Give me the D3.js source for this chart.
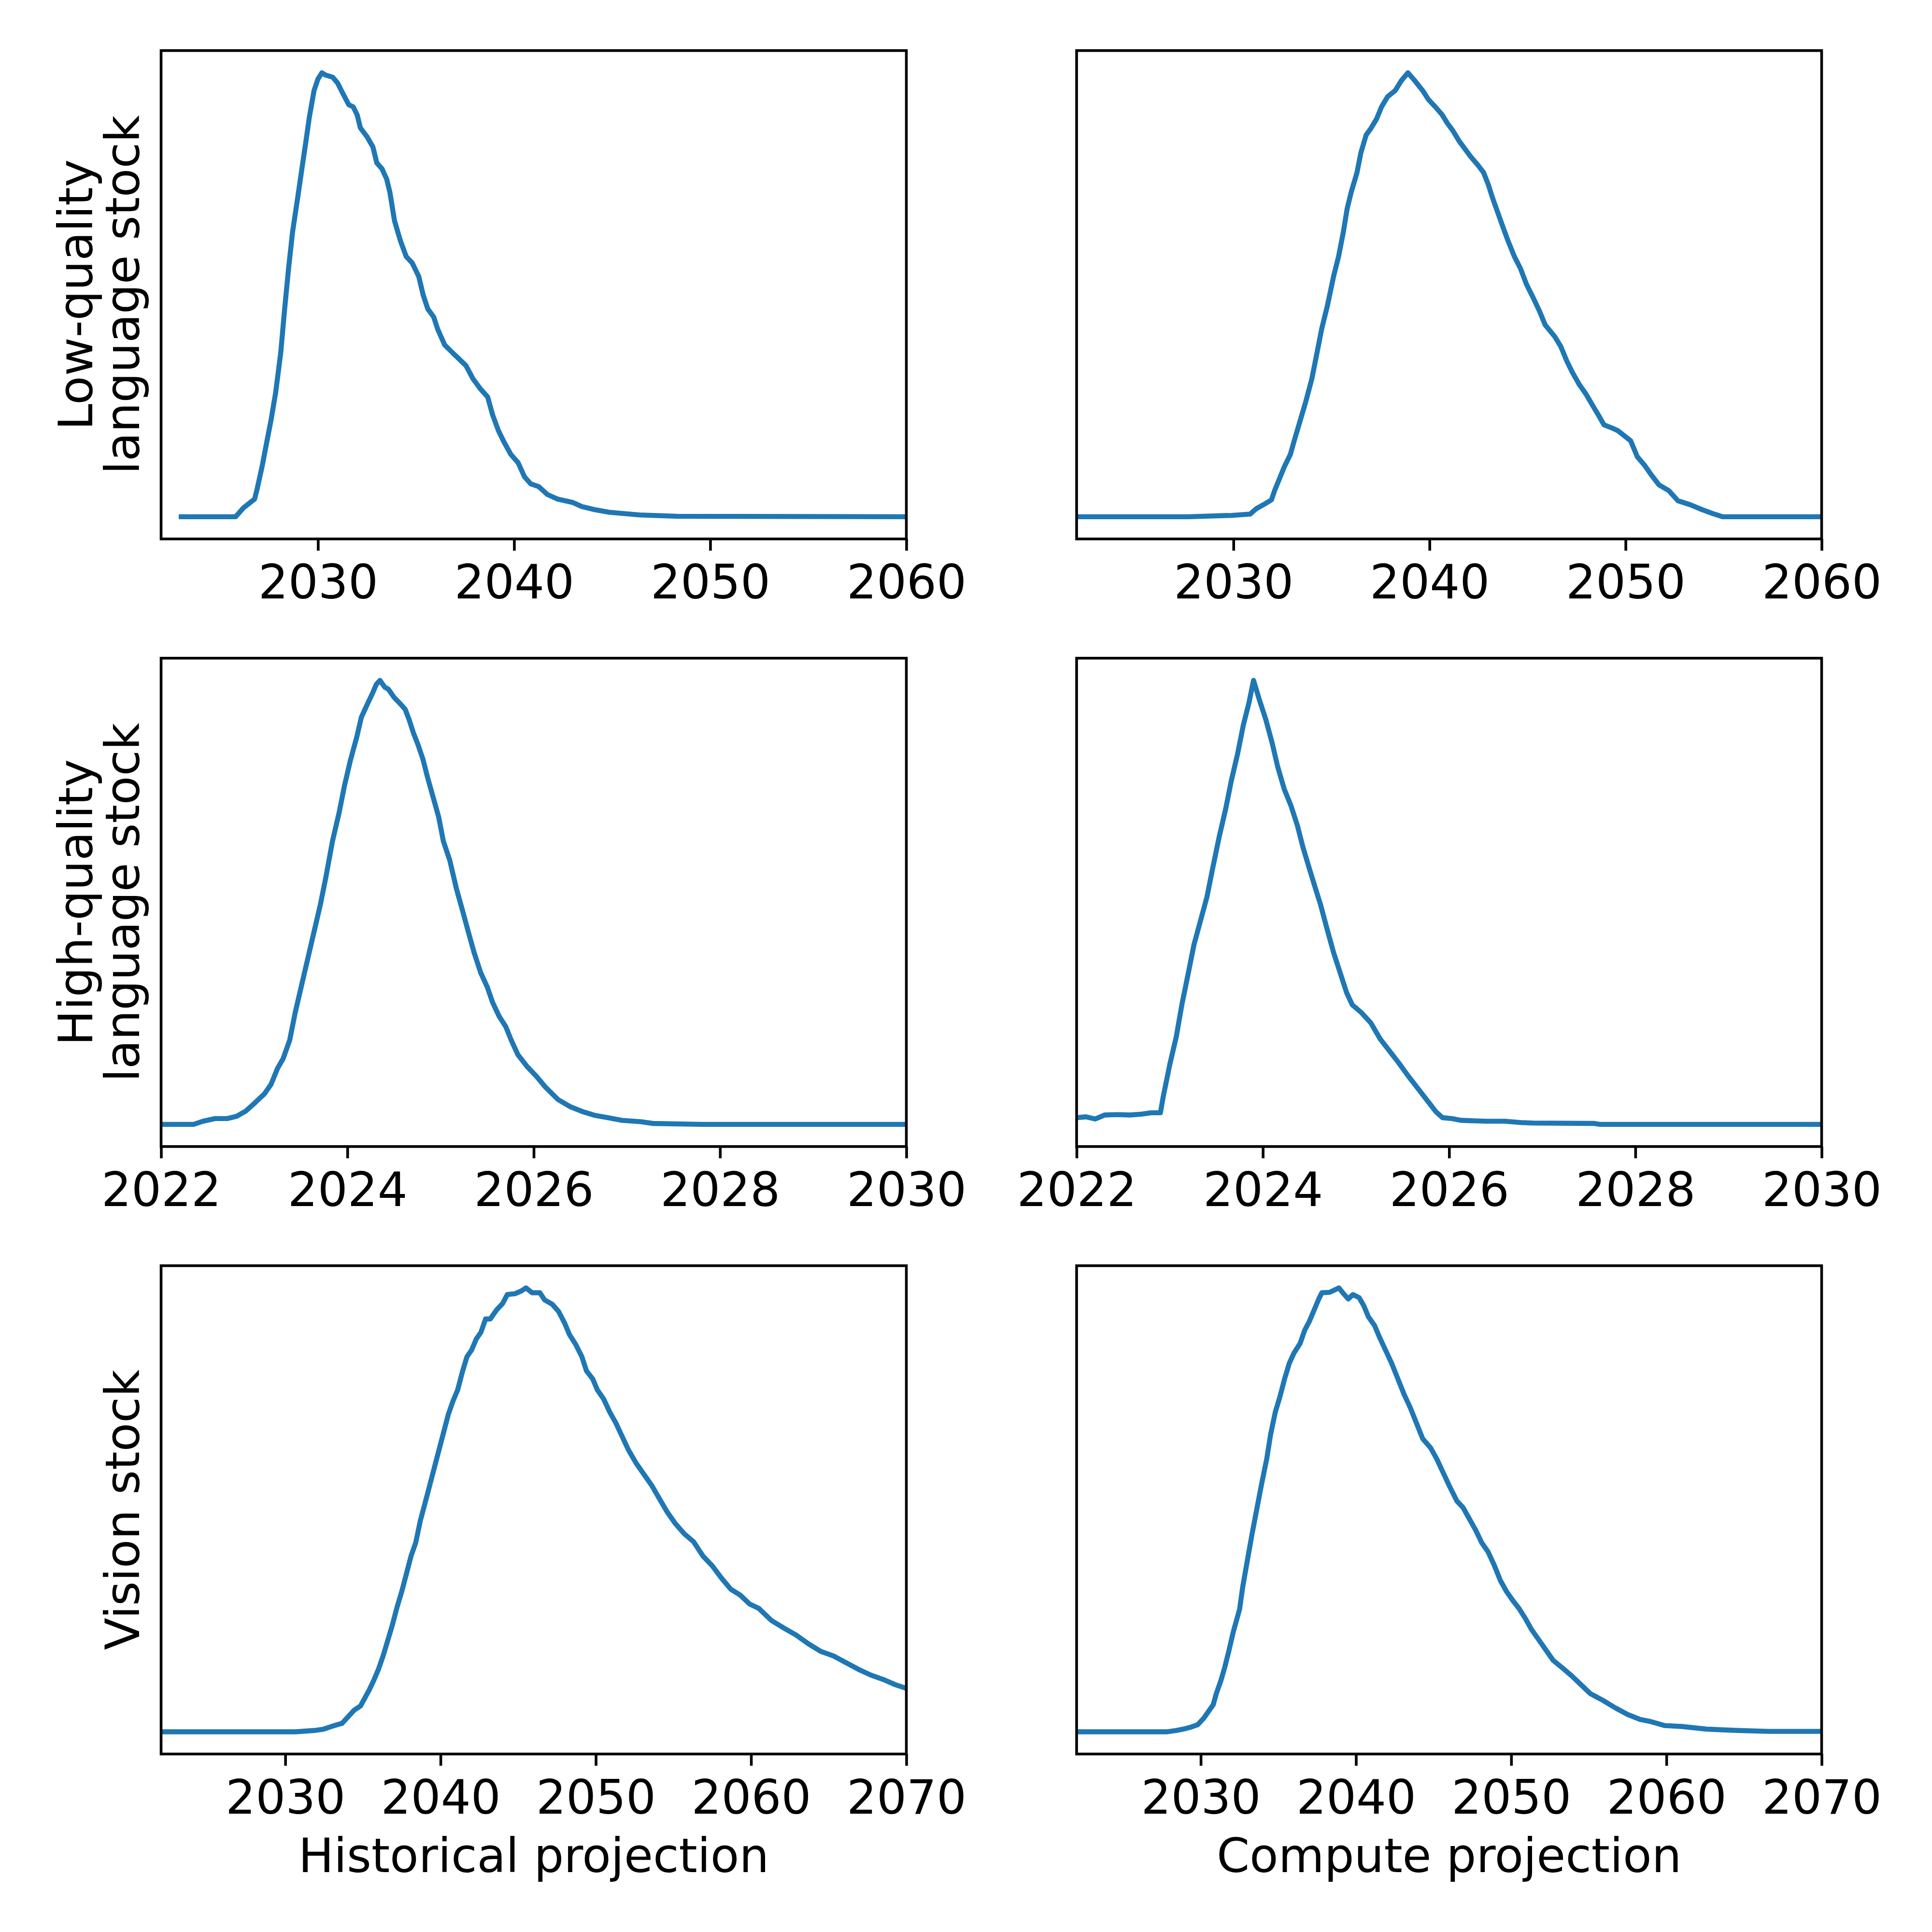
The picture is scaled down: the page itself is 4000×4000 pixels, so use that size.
<!DOCTYPE html>
<html lang="en">
<head>
<meta charset="UTF-8">
<title>Stock depletion projections</title>
<script src="https://d3js.org/d3.v7.min.js"></script>
<style>
  body { margin: 0; background: #fff; }
  svg text { font-family: 'DejaVu Sans', sans-serif; fill: #000; }
</style>
</head>
<body>
<svg width="4000" height="4000"></svg>
<script>
// ---- data (year, relative density) ----
const lowHist = [
  [2022.9,0],[2025.8,0],[2026.2,0.02],[2026.77,0.04],[2026.9,0.063],[2027.15,0.113],[2027.4,0.171],
  [2027.6,0.216],[2027.84,0.279],[2028.1,0.369],[2028.3,0.468],[2028.5,0.559],[2028.7,0.64],
  [2028.97,0.72],[2029.2,0.79],[2029.4,0.85],[2029.56,0.9],[2029.8,0.96],[2030.0,0.986],[2030.2,1.0],
  [2030.38,0.995],[2030.75,0.99],[2031.0,0.977],[2031.25,0.955],[2031.57,0.928],[2031.8,0.923],
  [2032.0,0.905],[2032.16,0.876],[2032.5,0.856],[2032.8,0.833],[2033.0,0.797],[2033.26,0.784],
  [2033.5,0.761],[2033.67,0.73],[2033.9,0.667],[2034.2,0.622],[2034.5,0.586],[2034.8,0.572],
  [2035.14,0.541],[2035.36,0.5],[2035.6,0.468],[2035.9,0.45],[2036.1,0.423],[2036.46,0.387],
  [2036.87,0.369],[2037.18,0.356],[2037.55,0.34],[2037.9,0.311],[2038.28,0.288],[2038.65,0.27],
  [2038.9,0.23],[2039.2,0.194],[2039.5,0.167],[2039.84,0.14],[2040.2,0.122],[2040.53,0.09],
  [2040.85,0.074],[2041.25,0.068],[2041.7,0.05],[2042.2,0.04],[2043.0,0.032],[2043.45,0.023],
  [2044.1,0.016],[2044.86,0.01],[2046.4,0.004],[2048.3,0.001],[2060,0]
];
const lowComp = [
  [2022,0],[2027.7,0],[2029.9,0.003],[2030.85,0.006],[2031.16,0.018],[2031.6,0.029],[2031.94,0.038],
  [2032.1,0.059],[2032.35,0.086],[2032.6,0.113],[2032.9,0.14],[2033.13,0.176],[2033.4,0.216],
  [2033.7,0.261],[2034.0,0.311],[2034.26,0.369],[2034.5,0.423],[2034.8,0.477],[2035.1,0.54],
  [2035.36,0.586],[2035.6,0.64],[2035.8,0.694],[2036.0,0.73],[2036.3,0.775],[2036.5,0.82],
  [2036.77,0.86],[2037.0,0.874],[2037.3,0.896],[2037.55,0.923],[2037.86,0.946],[2038.25,0.96],
  [2038.56,0.982],[2038.9,1.0],[2039.25,0.982],[2039.65,0.96],[2039.94,0.94],[2040.3,0.923],
  [2040.65,0.905],[2040.9,0.887],[2041.2,0.869],[2041.5,0.847],[2041.8,0.829],[2042.1,0.811],
  [2042.45,0.793],[2042.76,0.775],[2043.0,0.748],[2043.2,0.72],[2043.45,0.689],[2043.7,0.658],
  [2044.0,0.622],[2044.33,0.586],[2044.64,0.559],[2044.95,0.523],[2045.27,0.495],[2045.6,0.464],
  [2045.9,0.432],[2046.4,0.405],[2046.7,0.383],[2047.0,0.351],[2047.3,0.324],[2047.65,0.297],
  [2048.0,0.275],[2048.3,0.252],[2048.6,0.23],[2048.9,0.207],[2049.3,0.2],[2049.6,0.194],
  [2049.95,0.182],[2050.26,0.171],[2050.6,0.135],[2050.95,0.117],[2051.3,0.095],[2051.7,0.072],
  [2052.2,0.059],[2052.67,0.036],[2053.3,0.027],[2053.9,0.016],[2054.45,0.007],[2054.95,0],[2060,0]
];
const highHist = [
  [2022,0],[2022.35,0],[2022.45,0.007],[2022.58,0.013],[2022.71,0.013],[2022.81,0.018],[2022.91,0.03],
  [2023.01,0.049],[2023.11,0.069],[2023.18,0.09],[2023.25,0.126],[2023.31,0.148],[2023.38,0.189],
  [2023.44,0.252],[2023.51,0.315],[2023.58,0.378],[2023.64,0.432],[2023.71,0.495],[2023.77,0.558],
  [2023.84,0.638],[2023.91,0.701],[2023.97,0.764],[2024.03,0.818],[2024.1,0.872],[2024.15,0.917],
  [2024.22,0.949],[2024.27,0.971],[2024.31,0.991],[2024.35,1.0],[2024.4,0.985],[2024.44,0.98],
  [2024.5,0.962],[2024.56,0.949],[2024.62,0.935],[2024.66,0.913],[2024.71,0.881],[2024.76,0.854],
  [2024.81,0.823],[2024.86,0.782],[2024.92,0.737],[2024.98,0.692],[2025.03,0.638],[2025.1,0.594],
  [2025.17,0.531],[2025.23,0.486],[2025.3,0.432],[2025.36,0.387],[2025.43,0.342],[2025.5,0.31],
  [2025.56,0.274],[2025.63,0.243],[2025.7,0.22],[2025.76,0.189],[2025.83,0.157],[2025.93,0.13],
  [2026.03,0.108],[2026.13,0.083],[2026.26,0.056],[2026.39,0.04],[2026.52,0.029],[2026.66,0.02],
  [2026.82,0.014],[2026.95,0.009],[2027.15,0.006],[2027.28,0.002],[2027.8,0],[2030,0]
];
const highComp = [
  [2022.0,0.016],[2022.1,0.018],[2022.2,0.013],[2022.3,0.022],[2022.44,0.023],[2022.57,0.022],
  [2022.7,0.024],[2022.8,0.027],[2022.9,0.027],[2022.93,0.063],[2023.0,0.135],[2023.07,0.198],
  [2023.13,0.27],[2023.2,0.342],[2023.26,0.405],[2023.33,0.459],[2023.4,0.513],[2023.46,0.576],
  [2023.53,0.647],[2023.6,0.71],[2023.66,0.773],[2023.73,0.836],[2023.79,0.899],[2023.85,0.949],
  [2023.9,1.0],[2023.96,0.958],[2024.03,0.913],[2024.1,0.859],[2024.16,0.805],[2024.23,0.755],
  [2024.3,0.719],[2024.37,0.674],[2024.43,0.625],[2024.5,0.576],[2024.56,0.535],[2024.62,0.495],
  [2024.69,0.44],[2024.76,0.387],[2024.83,0.342],[2024.9,0.297],[2024.96,0.27],[2025.06,0.252],
  [2025.16,0.229],[2025.26,0.193],[2025.36,0.166],[2025.46,0.139],[2025.56,0.11],[2025.66,0.083],
  [2025.76,0.056],[2025.86,0.029],[2025.93,0.016],[2026.03,0.014],[2026.13,0.01],[2026.4,0.008],
  [2026.6,0.008],[2026.77,0.005],[2026.9,0.004],[2027.56,0.003],[2027.62,0.001],[2030,0.001]
];
const visionHist = [
  [2022,0],[2030.67,0],[2031.86,0.003],[2032.46,0.006],[2033.06,0.013],[2033.65,0.019],[2034.05,0.034],
  [2034.44,0.049],[2034.84,0.058],[2035.12,0.076],[2035.4,0.094],[2035.7,0.116],[2036.0,0.141],
  [2036.3,0.171],[2036.6,0.206],[2036.9,0.241],[2037.2,0.281],[2037.5,0.316],[2037.8,0.356],
  [2038.1,0.396],[2038.4,0.426],[2038.7,0.476],[2039.0,0.515],[2039.3,0.555],[2039.6,0.595],
  [2039.9,0.635],[2040.2,0.675],[2040.5,0.715],[2040.8,0.745],[2041.1,0.77],[2041.4,0.81],
  [2041.7,0.845],[2042.0,0.86],[2042.3,0.885],[2042.6,0.9],[2042.9,0.93],[2043.2,0.93],
  [2043.6,0.95],[2044.0,0.965],[2044.3,0.985],[2044.8,0.987],[2045.2,0.993],[2045.5,1.0],
  [2045.9,0.989],[2046.4,0.989],[2046.7,0.973],[2047.2,0.963],[2047.6,0.947],[2048.0,0.92],
  [2048.3,0.895],[2048.7,0.873],[2049.1,0.845],[2049.4,0.813],[2049.8,0.795],[2050.1,0.77],
  [2050.5,0.75],[2050.9,0.72],[2051.3,0.695],[2051.7,0.665],[2052.1,0.635],[2052.6,0.605],
  [2053.1,0.58],[2053.6,0.555],[2054.1,0.525],[2054.6,0.495],[2055.1,0.47],[2055.7,0.446],
  [2056.3,0.428],[2056.9,0.396],[2057.5,0.374],[2058.1,0.346],[2058.7,0.321],[2059.3,0.308],
  [2059.9,0.288],[2060.5,0.278],[2061.3,0.251],[2062.1,0.234],[2062.9,0.218],[2063.7,0.198],
  [2064.5,0.181],[2065.3,0.171],[2066.1,0.156],[2066.9,0.141],[2067.7,0.128],[2068.5,0.118],
  [2069.3,0.106],[2070,0.098]
];
const visionComp = [
  [2022,0],[2027.8,0],[2028.4,0.003],[2029.0,0.007],[2029.4,0.011],[2029.8,0.016],[2030.2,0.031],
  [2030.5,0.046],[2030.8,0.061],[2031.0,0.086],[2031.3,0.116],[2031.55,0.146],[2031.8,0.181],
  [2032.1,0.226],[2032.5,0.276],[2032.7,0.326],[2033.0,0.386],[2033.3,0.445],[2033.6,0.5],
  [2033.9,0.555],[2034.25,0.615],[2034.5,0.67],[2034.8,0.72],[2035.1,0.755],[2035.4,0.795],
  [2035.7,0.83],[2036.0,0.853],[2036.4,0.875],[2036.7,0.905],[2037.0,0.925],[2037.3,0.95],
  [2037.6,0.975],[2037.8,0.989],[2038.3,0.99],[2038.9,1.0],[2039.2,0.987],[2039.5,0.975],
  [2039.8,0.985],[2040.2,0.978],[2040.5,0.96],[2040.8,0.935],[2041.2,0.915],[2041.5,0.89],
  [2041.9,0.86],[2042.3,0.83],[2042.7,0.795],[2043.1,0.76],[2043.5,0.73],[2043.9,0.695],
  [2044.3,0.66],[2044.8,0.64],[2045.2,0.615],[2045.6,0.585],[2046.0,0.555],[2046.5,0.52],
  [2046.9,0.505],[2047.3,0.48],[2047.7,0.455],[2048.1,0.426],[2048.5,0.406],[2048.9,0.376],
  [2049.3,0.341],[2049.7,0.316],[2050.1,0.296],[2050.5,0.278],[2050.9,0.256],[2051.3,0.231],
  [2051.7,0.211],[2052.2,0.186],[2052.7,0.161],[2053.3,0.144],[2053.9,0.126],[2054.5,0.106],
  [2055.1,0.086],[2055.9,0.071],[2056.7,0.054],[2057.5,0.039],[2058.3,0.028],[2059.0,0.023],
  [2059.9,0.014],[2061.0,0.012],[2062.6,0.006],[2064.6,0.003],[2066.6,0.001],[2070,0.001]
];

const rowLabels = [["Low-quality", "language stock"], ["High-quality", "language stock"], ["Vision stock"]];
const colLabels = ["Historical projection", "Compute projection"];
const rowDomains = [[2022, 2060], [2022, 2030], [2022, 2070]];
const rowTicks = [[2030, 2040, 2050, 2060], [2022, 2024, 2026, 2028, 2030], [2030, 2040, 2050, 2060, 2070]];
const series = [[lowHist, lowComp], [highHist, highComp], [visionHist, visionComp]];

// ---- layout (matplotlib 8x8 in @ 500 dpi) ----
const svg = d3.select("svg");
const colX = [[333.5, 1876.5], [2229, 3771.5]];
const rowY = [[104.7, 1115.8], [1362.7, 2373.8], [2620.5, 3631.5]];
const fontSize = 97.5;
const frameW = 5.6, tickLen = 24.3;
const lineColor = "#1f77b4";

rowY.forEach((ry, r) => {
  colX.forEach((cx, c) => {
    const data = series[r][c];
    const x = d3.scaleLinear().domain(rowDomains[r]).range(cx);
    const [lo, hi] = d3.extent(data, d => d[1]);
    const pad = (hi - lo) * 0.05;
    const y = d3.scaleLinear().domain([lo - pad, hi + pad]).range([ry[1], ry[0]]);

    const g = svg.append("g");
    const clipId = `clip-${r}-${c}`;
    g.append("clipPath").attr("id", clipId)
      .append("rect").attr("x", cx[0]).attr("y", ry[0])
      .attr("width", cx[1] - cx[0]).attr("height", ry[1] - ry[0]);

    g.append("path")
      .datum(data)
      .attr("clip-path", `url(#${clipId})`)
      .attr("fill", "none")
      .attr("stroke", lineColor)
      .attr("stroke-width", 10.4)
      .attr("stroke-linejoin", "round")
      .attr("d", d3.line().x(d => x(d[0])).y(d => y(d[1])));

    // x axis ticks and labels
    const axis = d3.axisBottom(x).tickValues(rowTicks[r]).tickSize(tickLen).tickPadding(24).tickFormat(d3.format("d"));
    const ax = g.append("g").attr("transform", `translate(0,${ry[1]})`).call(axis);
    ax.select(".domain").remove();
    ax.selectAll(".tick line").attr("stroke", "#000").attr("stroke-width", frameW);
    ax.selectAll(".tick text")
      .attr("font-size", fontSize)
      .attr("font-family", "'DejaVu Sans', sans-serif")
      .attr("dy", null)
      .attr("y", 123)
      .attr("fill", "#000");

    // frame
    g.append("rect")
      .attr("x", cx[0]).attr("y", ry[0])
      .attr("width", cx[1] - cx[0]).attr("height", ry[1] - ry[0])
      .attr("fill", "none").attr("stroke", "#000").attr("stroke-width", frameW);

    // y label (left column only)
    if (c === 0) {
      const lines = rowLabels[r];
      const cy = (ry[0] + ry[1]) / 2;
      lines.forEach((t, i) => {
        const bx = 288 - (lines.length - 1 - i) * 97;
        svg.append("text")
          .attr("transform", `translate(${bx},${cy}) rotate(-90)`)
          .attr("text-anchor", "middle")
          .attr("font-size", fontSize)
          .text(t);
      });
    }

    // x label (bottom row only)
    if (r === rowY.length - 1) {
      svg.append("text")
        .attr("x", (cx[0] + cx[1]) / 2)
        .attr("y", ry[1] + 244.5)
        .attr("text-anchor", "middle")
        .attr("font-size", fontSize)
        .text(colLabels[c]);
    }
  });
});
</script>
</body>
</html>
